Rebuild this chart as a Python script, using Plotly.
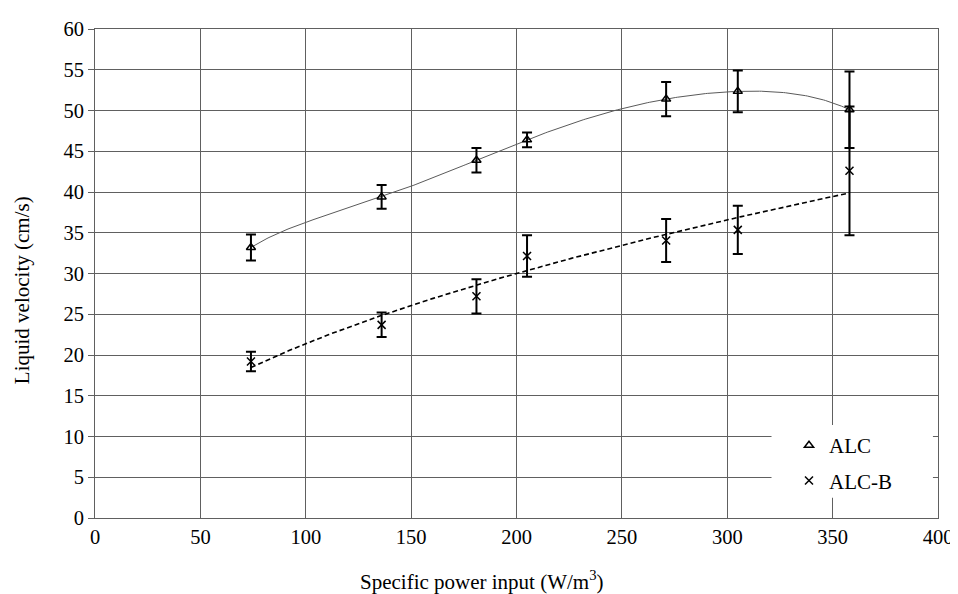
import numpy as np
import plotly.graph_objects as go

# Data
power = [74, 136, 181, 205, 271, 305, 358]
alc = [33.2, 39.4, 43.9, 46.4, 51.4, 52.35, 50.1]
alc_err = [1.6, 1.45, 1.5, 0.9, 2.1, 2.55, 4.7]
alcb = [19.2, 23.7, 27.2, 32.15, 34.05, 35.35, 42.6]
alcb_err = [1.2, 1.5, 2.1, 2.55, 2.65, 2.95, 7.9]
x_ticks = [0, 50, 100, 150, 200, 250, 300, 350, 400]
y_ticks = [0, 5, 10, 15, 20, 25, 30, 35, 40, 45, 50, 55, 60]

FONT = "Liberation Serif, Times New Roman, serif"
GRID = "#606060"

# target plot area in screen pixels
PX0, PX1, PY0, PY1 = 95, 938, 18, 518
PW, PH = PX1 - PX0, PY1 - PY0

xp = np.array(power, dtype=float)
xs = np.linspace(xp.min(), xp.max(), 300)

# ALC: polynomial trendline (order 6)
poly = np.polyfit(xp, np.array(alc), 6)
ys_alc = np.polyval(poly, xs)

# ALC-B: power trendline
b, a = np.polyfit(np.log(xp), np.log(np.array(alcb)), 1)
ys_alcb = np.exp(a) * xs ** b

fig = go.Figure()
fig.add_trace(go.Scatter(x=xs, y=ys_alc, mode="lines",
                         line=dict(color="#5a5a5a", width=1),
                         showlegend=False, hoverinfo="skip"))
fig.add_trace(go.Scatter(x=xs, y=ys_alcb, mode="lines",
                         line=dict(color="black", width=1.6, dash="5px,3px"),
                         showlegend=False, hoverinfo="skip"))
fig.add_trace(go.Scatter(x=power, y=alc, mode="markers", name="ALC",
                         legendgroup="a",
                         marker=dict(symbol="triangle-up-open", size=8,
                                     color="black", line=dict(width=1.5)),
                         error_y=dict(type="data", array=alc_err, visible=True,
                                      color="black", thickness=2, width=5)))
fig.add_trace(go.Scatter(x=power, y=alcb, mode="markers", name="ALC-B",
                         legendgroup="b",
                         marker=dict(symbol="x-thin-open", size=8,
                                     color="black", line=dict(width=1.5, color="black")),
                         error_y=dict(type="data", array=alcb_err, visible=True,
                                      color="black", thickness=2, width=5)))

# body margin of the page is 8px; compensate
OFF = 8
fig.update_layout(
    width=958, height=594,
    margin=dict(l=PX0 - OFF, r=958 - (PX1 - OFF), t=PY0 - OFF, b=594 - (PY1 - OFF)),
    paper_bgcolor="white", plot_bgcolor="white",
    font=dict(family=FONT, size=21, color="black"),
    showlegend=True,
    legend=dict(x=(789 - PX0) / PW, y=(PY1 - 423) / PH, xanchor="left", yanchor="top",
                bgcolor="rgba(0,0,0,0)", borderwidth=0,
                font=dict(family=FONT, size=21, color="black"),
                traceorder="grouped", tracegroupgap=5),
    shapes=[dict(type="rect", xref="x", yref="y", x0=321, x1=397.6, y0=2.5, y1=11.4,
                 fillcolor="white", line=dict(width=0), layer="between")],
    xaxis=dict(range=[0, 400], tickvals=x_ticks, ticks="",
               showgrid=True, gridcolor=GRID, gridwidth=1,
               zeroline=False, showline=True, linecolor=GRID, mirror=True,
               ticklabeloverflow="allow",
               tickfont=dict(family=FONT, size=20.5)),
    yaxis=dict(range=[0, 60], tickvals=y_ticks, ticks="outside", ticklen=6,
               tickcolor=GRID,
               showgrid=True, gridcolor=GRID, gridwidth=1,
               zeroline=False, showline=True, linecolor=GRID, mirror=True,
               ticklabeloverflow="allow",
               tickfont=dict(family=FONT, size=20.5)),
    annotations=[
        dict(text="Specific power input (W/m<sup>3</sup>)", xref="paper", yref="paper",
             x=(482 - PX0) / PW, y=-(582 - PY1) / PH, xanchor="center", yanchor="middle",
             showarrow=False, font=dict(family=FONT, size=21)),
        dict(text="Liquid velocity (cm/s)", xref="paper", yref="paper",
             x=-(PX0 - 22) / PW, y=(PY1 - 285) / PH, xanchor="center", yanchor="middle",
             textangle=-90, showarrow=False, font=dict(family=FONT, size=21)),
    ],
)

fig.write_html("out.html")
